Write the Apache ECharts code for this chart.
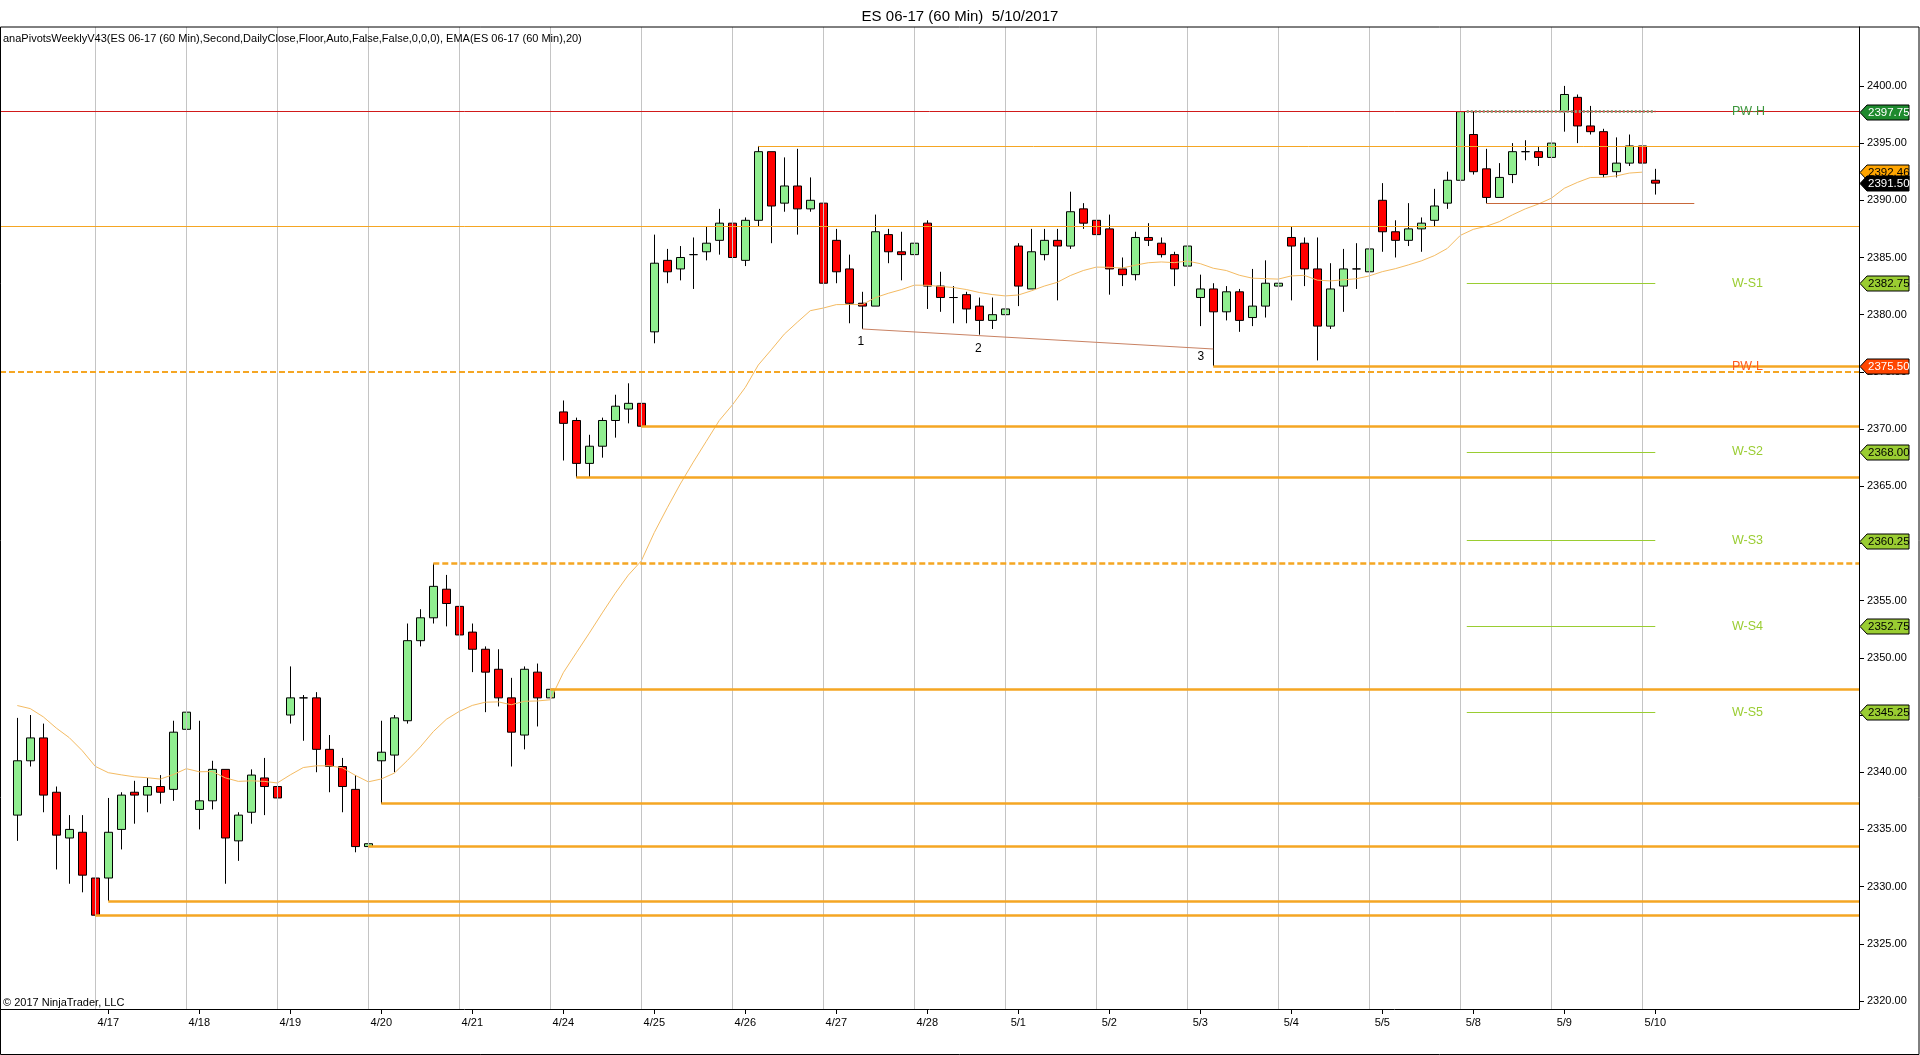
<!DOCTYPE html>
<html><head><meta charset="utf-8">
<script src="https://cdn.jsdelivr.net/npm/echarts@6/dist/echarts.min.js"></script>
<style>html,body{margin:0;padding:0;background:#fff}#c{width:1920px;height:1055px}</style>
</head><body><div id="c"></div>
<script>
// ---------------- DATA ----------------
const dayLabels = ['4/13','4/17','4/18','4/19','4/20','4/21','4/24','4/25','4/26','4/27','4/28','5/1','5/2','5/3','5/4','5/5','5/8','5/9','5/10'];
const dayStartBars = [0,7,14,21,28,35,42,49,56,63,70,77,84,91,98,105,112,119,126];

// [open, close, low, high] per 60-min bar
const candles = [
 [2336.25,2341.00,2334.00,2344.75],[2341.00,2343.00,2340.50,2345.00],[2343.00,2338.00,2336.50,2344.25],[2338.25,2334.50,2331.50,2338.75],
 [2334.25,2335.00,2330.25,2336.25],[2334.75,2331.00,2329.50,2336.25],[2330.75,2327.50,2324.00,2331.75],
 [2330.75,2334.75,2328.75,2337.75],[2335.00,2338.00,2333.25,2338.25],[2338.25,2338.00,2335.50,2339.25],[2338.00,2338.75,2336.50,2339.50],
 [2338.75,2338.25,2337.25,2339.75],[2338.50,2343.50,2337.50,2344.50],[2343.75,2345.25,2342.00,2346.00],
 [2336.75,2337.50,2335.00,2344.50],[2337.50,2340.25,2336.75,2341.00],[2340.25,2334.25,2330.25,2340.25],[2334.00,2336.25,2332.25,2336.50],
 [2336.50,2339.75,2335.50,2340.25],[2339.50,2338.75,2336.25,2341.25],[2338.75,2337.75,2336.75,2341.25],
 [2345.00,2346.50,2344.25,2349.25],[2346.50,2346.50,2342.75,2346.75],[2346.50,2342.00,2340.00,2347.00],[2342.00,2340.50,2338.25,2343.25],
 [2340.50,2338.75,2336.50,2341.25],[2338.50,2333.50,2333.00,2339.75],[2333.50,2333.75,2331.25,2335.50],
 [2341.00,2341.75,2337.25,2344.50],[2341.50,2344.75,2340.00,2345.00],[2344.50,2351.50,2344.25,2353.00],[2351.50,2353.50,2351.00,2354.25],
 [2353.50,2356.25,2353.00,2358.25],[2356.00,2354.75,2352.75,2357.25],[2354.50,2352.00,2351.50,2356.75],
 [2352.25,2350.75,2348.75,2353.00],[2350.75,2348.75,2345.25,2351.00],[2349.00,2346.50,2345.75,2350.75],[2346.50,2343.50,2340.50,2348.25],
 [2343.25,2349.00,2342.00,2349.25],[2348.75,2346.50,2344.00,2349.50],[2346.50,2347.25,2344.75,2348.75],
 [2371.50,2370.50,2367.25,2372.50],[2370.75,2367.00,2365.75,2371.00],[2367.00,2368.50,2365.75,2369.50],[2368.50,2370.75,2367.50,2371.00],
 [2370.75,2372.00,2369.25,2373.00],[2371.75,2372.25,2370.50,2374.00],[2372.25,2370.25,2368.25,2373.00],
 [2378.50,2384.50,2377.50,2387.00],[2384.75,2383.75,2382.75,2385.75],[2384.00,2385.00,2383.00,2386.00],[2385.25,2385.25,2382.25,2386.75],
 [2385.50,2386.25,2384.75,2387.75],[2386.50,2388.00,2385.25,2389.25],[2388.00,2385.00,2383.25,2388.00],
 [2384.75,2388.25,2384.25,2388.50],[2388.25,2394.25,2387.75,2394.75],[2394.25,2389.50,2386.25,2394.25],[2389.75,2391.25,2389.00,2393.75],
 [2391.25,2389.25,2387.00,2394.50],[2389.25,2390.00,2389.00,2392.00],[2389.75,2382.75,2382.00,2390.25],
 [2386.50,2383.75,2382.75,2387.50],[2384.00,2381.00,2379.25,2385.25],[2381.00,2380.75,2378.75,2382.00],[2380.75,2387.25,2380.75,2388.75],
 [2387.00,2385.50,2384.50,2387.50],[2385.50,2385.25,2383.00,2387.25],[2385.25,2386.25,2383.25,2386.75],
 [2388.00,2382.50,2380.50,2388.25],[2382.50,2381.50,2380.25,2383.75],[2381.50,2381.50,2379.25,2382.50],[2381.75,2380.50,2379.25,2382.00],
 [2380.75,2379.50,2378.25,2381.50],[2379.50,2380.00,2378.75,2381.50],[2380.00,2380.50,2379.25,2382.25],
 [2386.00,2382.50,2380.75,2386.25],[2382.25,2385.50,2382.25,2387.50],[2385.25,2386.50,2384.75,2387.50],[2386.50,2386.00,2381.25,2387.50],
 [2386.00,2389.00,2385.75,2390.75],[2389.25,2388.00,2387.50,2389.75],[2388.25,2387.00,2385.00,2390.25],
 [2387.50,2384.00,2381.75,2388.75],[2384.00,2383.50,2382.50,2385.00],[2383.50,2386.75,2383.00,2387.25],[2386.75,2386.50,2386.00,2388.00],
 [2386.25,2385.25,2385.00,2386.75],[2385.25,2384.00,2382.50,2385.50],[2384.25,2386.00,2383.75,2387.25],
 [2381.50,2382.25,2379.00,2383.50],[2382.25,2380.25,2375.50,2382.75],[2380.25,2382.00,2379.50,2382.50],[2382.00,2379.50,2378.50,2382.25],
 [2379.75,2380.75,2379.00,2384.00],[2380.75,2382.75,2379.75,2384.75],[2382.50,2382.75,2382.25,2386.00],
 [2386.75,2386.00,2381.25,2387.75],[2386.25,2384.00,2382.50,2386.75],[2384.00,2379.00,2376.00,2386.75],[2379.00,2382.25,2378.75,2384.50],
 [2382.50,2384.00,2380.25,2385.75],[2384.00,2384.00,2382.25,2386.25],[2383.75,2385.75,2383.75,2386.50],
 [2390.00,2387.25,2385.50,2391.50],[2387.25,2386.50,2385.00,2388.25],[2386.50,2387.50,2386.00,2389.75],[2387.50,2388.00,2385.50,2388.50],
 [2388.25,2389.50,2387.75,2391.00],[2389.75,2391.75,2389.25,2392.50],[2391.75,2397.75,2391.50,2397.75],
 [2395.75,2392.50,2392.25,2397.75],[2392.75,2390.25,2389.75,2394.50],[2390.25,2392.00,2390.25,2393.25],[2392.25,2394.25,2391.50,2395.00],
 [2394.25,2394.25,2393.50,2395.25],[2394.25,2393.75,2393.00,2394.75],[2393.75,2395.00,2392.00,2395.50],
 [2397.75,2399.25,2396.00,2400.00],[2399.00,2396.50,2395.00,2399.25],[2396.50,2396.00,2395.75,2398.25],[2396.00,2392.25,2392.00,2396.25],
 [2392.50,2393.25,2392.00,2395.50],[2393.25,2394.75,2393.00,2395.75],[2394.75,2393.25,2388.75,2395.00],
 [2391.75,2391.50,2390.50,2392.75]
];

// EMA(20) values, one per bar (last bar not yet plotted)
const ema = [
 2345.83,2345.56,2344.84,2343.86,2343.02,2341.88,2340.51,
 2339.96,2339.77,2339.60,2339.52,2339.40,2339.79,2340.31,
 2340.04,2340.06,2339.51,2339.20,2339.25,2339.20,2339.06,
 2339.77,2340.41,2340.56,2340.56,2340.39,2339.73,2339.16,
 2339.41,2339.92,2341.02,2342.21,2343.55,2344.62,2345.32,
 2345.84,2346.12,2346.15,2345.90,2346.20,2346.23,2346.33,
 2348.70,2350.44,2352.16,2353.93,2355.65,2357.23,2358.47,
 2360.95,2363.12,2365.20,2367.11,2368.93,2370.75,2372.10,
 2373.64,2375.60,2376.93,2378.30,2379.34,2380.35,2380.58,
 2380.88,2380.89,2380.88,2381.49,2381.87,2382.19,2382.58,
 2382.57,2382.47,2382.38,2382.20,2381.94,2381.76,2381.64,
 2381.72,2382.08,2382.50,2382.83,2383.42,2383.86,2384.16,
 2384.14,2384.08,2384.33,2384.54,2384.61,2384.55,2384.69,
 2384.46,2384.06,2383.86,2383.45,2383.19,2383.15,2383.11,
 2383.39,2383.44,2383.02,2382.95,2383.05,2383.14,2383.39,
 2383.76,2384.02,2384.35,2384.70,2385.16,2385.79,2386.93,
 2387.46,2387.73,2388.13,2388.72,2389.25,2389.67,2390.18,
 2391.05,2391.56,2391.99,2392.01,2392.13,2392.38,2392.46
];

const fullWidthLevels = [2397.75, 2387.75, 2375.00];
const rayLevels = [2394.75, 2375.50, 2370.25, 2365.75, 2358.25, 2347.25, 2337.25, 2333.50, 2328.75, 2327.50];
const rayStartBars = [57, 92, 48, 43, 32, 41, 28, 27, 7, 6];
const pivotStartBar = 111.5, pivotEndBar = 126;
const priorWeekHigh = 2397.75, priorWeekLow = 2375.50;
const weeklySupports = [2382.75, 2368.00, 2360.25, 2352.75, 2345.25];
const weeklySupportNames = ['W-S1','W-S2','W-S3','W-S4','W-S5'];
const swingLevel = [2389.75, 113, 129];           // price, from bar, to bar
const trendLine = [[65, 2378.75], [92, 2377.00]];
const swingMarks = [[64.88, 2377.63, '1'], [73.92, 2377.06, '2'], [91.05, 2376.32, '3']];
const emaLast = 2392.46, lastPrice = 2391.50;
const yTicks = [2320,2325,2330,2335,2340,2345,2350,2355,2360,2365,2370,2375,2380,2385,2390,2395,2400];

// ---------------- LAYOUT / STYLE ----------------
const FONT = '"Liberation Sans", Arial, sans-serif';
const X_MIN = -1.33, X_MAX = 141.67, Y_MIN = 2319.3, Y_MAX = 2405.15;
const LABEL_BAR = 131.9;
const ORANGE = '#f5a623';

const tickBars = dayStartBars.slice(1);
const tickLabelMap = {};
dayStartBars.forEach((b, i) => { tickLabelMap[b] = dayLabels[i]; });
const gridBars = dayStartBars.slice(1).map(b => b - 1);

const rayStyles = rayLevels.map((p, i) => {
  if (i === 0) return {color: ORANGE, width: 1, type: 'solid'};
  if (i === 4) return {color: ORANGE, width: 2.5, type: [6, 3]};
  return {color: ORANGE, width: 2.5, type: 'solid'};
});
const fullStyles = [
  {color: '#d11a1a', width: 1, type: 'solid'},
  {color: ORANGE, width: 1, type: 'solid'},
  {color: ORANGE, width: 2, type: [6, 3]}
];

const levelLines = [];
fullWidthLevels.forEach((p, i) => levelLines.push({yAxis: p, lineStyle: fullStyles[i]}));
rayLevels.forEach((p, i) => levelLines.push([{coord: [rayStartBars[i], p], lineStyle: rayStyles[i]}, {coord: [X_MAX, p]}]));
weeklySupports.forEach(p => levelLines.push([{coord: [pivotStartBar, p], lineStyle: {color: '#9acd32', width: 1, type: 'solid'}}, {coord: [pivotEndBar, p]}]));
levelLines.push([{coord: [pivotStartBar, priorWeekHigh], lineStyle: {color: '#8fa07c', width: 3, type: [2, 2]}}, {coord: [pivotEndBar, priorWeekHigh]}]);
levelLines.push([{coord: [swingLevel[1], swingLevel[0]], lineStyle: {color: '#c8683a', width: 1, type: 'solid'}}, {coord: [swingLevel[2], swingLevel[0]]}]);
levelLines.push([{coord: trendLine[0], lineStyle: {color: '#c98263', width: 1, type: 'solid'}}, {coord: trendLine[1]}]);

// right side texts
const sideTexts = [['PW-H', priorWeekHigh, '#3c963c'], ['PW-L', priorWeekLow, '#ff5a1f']]
  .concat(weeklySupports.map((p, i) => [weeklySupportNames[i], p, '#9acd32']));

// axis tags
const tags = [
  [priorWeekHigh, '#1e8a2e', '#ffffff'],
  [emaLast, '#ffa500', '#000000'],
  [lastPrice, '#000000', '#ffffff'],
  [weeklySupports[0], '#9acd32', '#000000'],
  [priorWeekLow, '#ff4500', '#ffffff'],
  [weeklySupports[1], '#9acd32', '#000000'],
  [weeklySupports[2], '#9acd32', '#000000'],
  [weeklySupports[3], '#9acd32', '#000000'],
  [weeklySupports[4], '#9acd32', '#000000']
];

const chart = echarts.init(document.getElementById('c'));
chart.setOption({
  animation: false,
  backgroundColor: '#ffffff',
  title: {
    text: 'ES 06-17 (60 Min)  5/10/2017', left: 'center', top: 4,
    textStyle: {fontSize: 15, fontWeight: 'normal', color: '#000', fontFamily: FONT}
  },
  grid: {left: 0, right: 61, top: 27, bottom: 46, containLabel: false},
  xAxis: {
    type: 'value', min: X_MIN, max: X_MAX,
    axisLine: {show: true, onZero: false, lineStyle: {color: '#000', width: 1}},
    axisTick: {show: true, customValues: tickBars, length: 5, lineStyle: {color: '#000'}},
    axisLabel: {show: true, customValues: tickBars, formatter: v => tickLabelMap[Math.round(v)] || '',
      color: '#000', fontSize: 11, fontFamily: FONT, margin: 8},
    splitLine: {show: false}
  },
  yAxis: {
    type: 'value', position: 'right', min: Y_MIN, max: Y_MAX, scale: true,
    axisLine: {show: true, onZero: false, lineStyle: {color: '#000', width: 1}},
    axisTick: {show: true, customValues: yTicks, length: 5, lineStyle: {color: '#000'}},
    axisLabel: {show: true, customValues: yTicks, formatter: v => Number(v).toFixed(2),
      color: '#000', fontSize: 11, fontFamily: FONT, margin: 8},
    splitLine: {show: false}
  },
  graphic: [
    {type: 'rect', z: 100, silent: true, shape: {x: 0.5, y: 27, width: 1918.5, height: 1027.5},
      style: {fill: null, stroke: '#000', lineWidth: 1}},
    {type: 'text', left: 3, top: 33, z: 100, silent: true,
      style: {text: 'anaPivotsWeeklyV43(ES 06-17 (60 Min),Second,DailyClose,Floor,Auto,False,False,0,0,0), EMA(ES 06-17 (60 Min),20)',
        fill: '#000', font: '11px ' + FONT}},
    {type: 'text', left: 3, top: 997, z: 100, silent: true,
      style: {text: '© 2017 NinjaTrader, LLC', fill: '#000', font: '11px ' + FONT}}
  ],
  series: [
    {
      type: 'line', data: [], z: 1, silent: true,
      markLine: {silent: true, symbol: ['none', 'none'], label: {show: false}, animation: false,
        lineStyle: {color: '#c4c4c4', width: 1, type: 'solid'},
        data: gridBars.map(b => ({xAxis: b}))}
    },
    {
      type: 'candlestick', z: 3, barWidth: 9,
      data: candles.map((c, i) => [i, c[0], c[1], c[2], c[3]]),
      encode: {x: 0, y: [1, 2, 3, 4]},
      itemStyle: {color: '#90ee90', color0: '#ff0000', borderColor: '#000', borderColor0: '#000', borderWidth: 1}
    },
    {
      type: 'line', z: 4, silent: true, symbol: 'none',
      data: ema.map((v, i) => [i, v]),
      lineStyle: {color: '#f4bb62', width: 1}
    },
    {
      type: 'line', data: [], z: 5, silent: true,
      markLine: {silent: true, symbol: ['none', 'none'], label: {show: false}, animation: false, data: levelLines}
    },
    {
      type: 'custom', coordinateSystem: 'cartesian2d', clip: false, silent: true, z: 8,
      data: swingMarks.map(m => [m[0], m[1]]),
      encode: {x: 0, y: 1},
      renderItem: (params, api) => {
        const pt = api.coord([api.value(0), api.value(1)]);
        return {type: 'text', x: pt[0], y: pt[1],
          style: {text: swingMarks[params.dataIndex][2], fill: '#000', font: '12px ' + FONT,
            align: 'center', verticalAlign: 'middle', textAlign: 'center', textVerticalAlign: 'middle'}};
      }
    },
    {
      type: 'custom', coordinateSystem: 'cartesian2d', clip: false, silent: true, z: 8,
      data: sideTexts.map(t => [LABEL_BAR, t[1]]),
      encode: {x: 0, y: 1},
      renderItem: (params, api) => {
        const pt = api.coord([api.value(0), api.value(1)]);
        const t = sideTexts[params.dataIndex];
        return {type: 'text', x: pt[0], y: pt[1],
          style: {text: t[0], fill: t[2], font: '12.5px ' + FONT,
            align: 'left', verticalAlign: 'middle', textAlign: 'left', textVerticalAlign: 'middle'}};
      }
    },
    {
      type: 'custom', coordinateSystem: 'cartesian2d', clip: false, silent: true, z: 20,
      data: tags.map(t => [X_MAX, t[0]]),
      encode: {x: 0, y: 1},
      renderItem: (params, api) => {
        const y = Math.round(api.coord([api.value(0), api.value(1)])[1]) + 0.5;
        const x0 = params.coordSys.x + params.coordSys.width;
        const t = tags[params.dataIndex];
        return {type: 'group', children: [
          {type: 'polygon', shape: {points: [[x0 + 1, y], [x0 + 8, y - 7.5], [x0 + 50, y - 7.5], [x0 + 50, y + 7.5], [x0 + 8, y + 7.5]]},
            style: {fill: t[1], stroke: '#000', lineWidth: 1}},
          {type: 'text', x: x0 + 9, y: y,
            style: {text: t[0].toFixed(2), fill: t[2], font: '11.5px ' + FONT,
              align: 'left', verticalAlign: 'middle', textAlign: 'left', textVerticalAlign: 'middle'}}
        ]};
      }
    }
  ]
});
</script></body></html>
